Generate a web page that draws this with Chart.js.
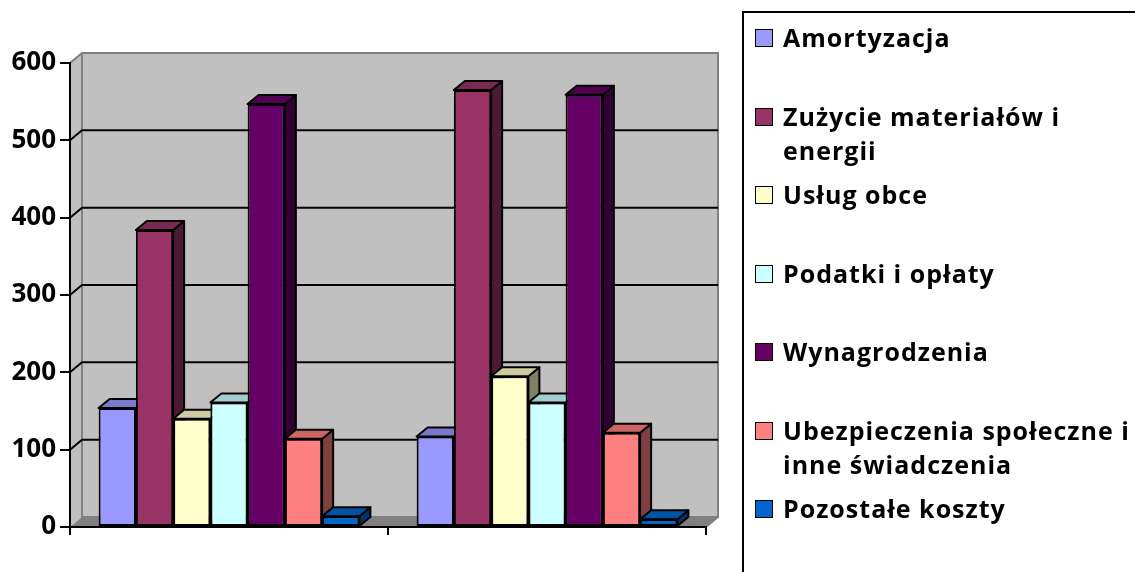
<!DOCTYPE html>
<html>
<head>
<meta charset="utf-8">
<script src="https://cdn.jsdelivr.net/npm/chart.js@4.4.1/dist/chart.umd.min.js"></script>
<style>
  body {
    margin: 0;
    background: #fff;
    font-family: 'Open Sans', sans-serif;
  }
  .wrap {
    position: relative;
    width: 1135px;
    height: 572px;
    overflow: hidden;
  }
  .chart-box {
    position: absolute;
    left: 0;
    top: 0;
    width: 1135px;
    height: 572px;
  }
  .legend-box {
    position: absolute;
    left: 742px;
    top: 11px;
    width: 460px;
    height: 640px;
    border: 2px solid #000;
  }
  .legend-item {
    position: absolute;
    left: 783px;
    width: 362px;
    font-weight: 700;
    font-size: 25px;
    letter-spacing: 1px;
    line-height: 34px;
    color: #000;
  }
  .legend-swatch {
    position: absolute;
    left: 755px;
    width: 16px;
    height: 16px;
    border: 1px solid #000;
  }
</style>
</head>
<body>
<div class="wrap">
  <div class="chart-box"><canvas id="costChart"></canvas></div>
  <div class="legend-box"></div>
  <div id="legend"></div>
</div>
<script>
  // data
  const categories = ['Okres 1', 'Okres 2'];
  const seriesNames = [
    'Amortyzacja',
    'Zużycie materiałów i energii',
    'Usług obce',
    'Podatki i opłaty',
    'Wynagrodzenia',
    'Ubezpieczenia społeczne i inne świadczenia',
    'Pozostałe koszty'
  ];
  const amortyzacja = [154, 117];
  const zuzycieMaterialow = [384, 565];
  const uslugiObce = [140, 195];
  const podatkiOplaty = [161, 161];
  const wynagrodzenia = [547, 559];
  const ubezpieczenia = [114, 122];
  const pozostaleKoszty = [14, 10];
  const yTickValues = [0, 100, 200, 300, 400, 500, 600];

  const seriesValues = [amortyzacja, zuzycieMaterialow, uslugiObce, podatkiOplaty, wynagrodzenia, ubezpieczenia, pozostaleKoszty];
  const seriesColors = ['#9999FF', '#993366', '#FFFFCC', '#CCFFFF', '#660066', '#FF8080', '#0066CC'];

  const WALL_DX = 12, WALL_DY = 10;
  const BAR_DX = 11, BAR_DY = 9;

  function shade(hex, f) {
    const n = parseInt(hex.slice(1), 16);
    const r = Math.round(((n >> 16) & 255) * f);
    const g = Math.round(((n >> 8) & 255) * f);
    const b = Math.round((n & 255) * f);
    return `rgb(${r}, ${g}, ${b})`;
  }

  function poly(ctx, pts) {
    ctx.beginPath();
    ctx.moveTo(pts[0][0], pts[0][1]);
    for (let i = 1; i < pts.length; i++) ctx.lineTo(pts[i][0], pts[i][1]);
    ctx.closePath();
  }

  // grey walls, floor and the gridlines on the back wall
  const walls = {
    id: 'walls',
    beforeDraw(chart) {
      const { ctx, chartArea: a, scales } = chart;
      const y = scales.y;
      ctx.save();
      ctx.fillStyle = '#C0C0C0';
      ctx.fillRect(a.left + WALL_DX, a.top - WALL_DY, a.right - a.left, a.bottom - a.top);
      poly(ctx, [[a.left, a.top], [a.left + WALL_DX, a.top - WALL_DY], [a.left + WALL_DX, a.bottom - WALL_DY], [a.left, a.bottom]]);
      ctx.fill();
      ctx.fillStyle = '#808080';
      poly(ctx, [[a.left, a.bottom], [a.left + WALL_DX, a.bottom - WALL_DY], [a.right + WALL_DX, a.bottom - WALL_DY], [a.right, a.bottom]]);
      ctx.fill();

      ctx.strokeStyle = '#808080';
      ctx.lineWidth = 2;
      ctx.strokeRect(a.left + WALL_DX, a.top - WALL_DY, a.right - a.left, a.bottom - a.top);
      ctx.beginPath();
      ctx.moveTo(a.left, a.top);
      ctx.lineTo(a.left + WALL_DX, a.top - WALL_DY);
      ctx.moveTo(a.right, a.bottom);
      ctx.lineTo(a.right + WALL_DX, a.bottom - WALL_DY);
      ctx.stroke();

      ctx.strokeStyle = '#000';
      ctx.lineWidth = 2;
      y.ticks.forEach(t => {
        if (t.value === y.min || t.value === y.max) return;
        const py = y.getPixelForValue(t.value);
        ctx.beginPath();
        ctx.moveTo(a.left, py);
        ctx.lineTo(a.left + WALL_DX, py - WALL_DY);
        ctx.lineTo(a.right + WALL_DX, py - WALL_DY);
        ctx.stroke();
      });
      ctx.restore();
    }
  };

  // draw bars left to right with their side and top faces
  const boxes3d = {
    id: 'boxes3d',
    beforeDatasetsDraw(chart) {
      const ctx = chart.ctx;
      chart.data.datasets.forEach((ds, i) => {
        const meta = chart.getDatasetMeta(i);
        const col = seriesColors[i];
        meta.data.forEach(bar => {
          const { x, y, base, width } = bar.getProps(['x', 'y', 'base', 'width'], true);
          const l = x - width / 2, r = x + width / 2;
          ctx.save();
          ctx.lineWidth = 2;
          ctx.strokeStyle = '#000';
          ctx.lineJoin = 'round';
          poly(ctx, [[r, y], [r + BAR_DX, y - BAR_DY], [r + BAR_DX, base - BAR_DY], [r, base]]);
          ctx.fillStyle = shade(col, 0.5);
          ctx.fill();
          ctx.stroke();
          poly(ctx, [[l, y], [l + BAR_DX, y - BAR_DY], [r + BAR_DX, y - BAR_DY], [r, y]]);
          ctx.fillStyle = shade(col, 0.8);
          ctx.fill();
          ctx.stroke();
          ctx.restore();
          bar.draw(ctx);
        });
      });
      return false;
    }
  };

  const ctx = document.getElementById('costChart').getContext('2d');
  new Chart(ctx, {
    type: 'bar',
    data: {
      labels: categories,
      datasets: seriesNames.map((name, i) => ({
        label: name,
        data: seriesValues[i],
        backgroundColor: seriesColors[i],
        borderColor: '#000',
        borderWidth: 2,
        borderSkipped: false,
        barPercentage: 1.0,
        categoryPercentage: 0.82
      }))
    },
    options: {
      responsive: true,
      maintainAspectRatio: false,
      animation: false,
      layout: {
        padding: { left: 0, top: 63, right: 429, bottom: 37 }
      },
      plugins: {
        legend: { display: false },
        tooltip: { enabled: false }
      },
      scales: {
        x: {
          ticks: { display: false },
          grid: { offset: true, drawOnChartArea: false, drawTicks: true, tickLength: 8, color: '#000', lineWidth: 2 },
          border: { display: true, color: '#000', width: 2 },
          afterFit: function(scale) { scale.height = 8; }
        },
        y: {
          min: 0,
          max: 600,
          afterBuildTicks: function(scale) {
            scale.ticks = yTickValues.map(v => ({ value: v }));
          },
          ticks: {
            color: '#000',
            padding: 4,
            font: { family: 'Open Sans', weight: 'bold', size: 26 }
          },
          grid: { drawOnChartArea: false, drawTicks: true, tickLength: 10, color: '#000', lineWidth: 2 },
          border: { display: true, color: '#000', width: 2 },
          afterFit: function(scale) { scale.width = 70; }
        }
      }
    },
    plugins: [walls, boxes3d]
  });

  // legend on the right, built from the series
  const legendEl = document.getElementById('legend');
  seriesNames.forEach((name, i) => {
    const top = 20 + 78.5 * i;
    const sw = document.createElement('div');
    sw.className = 'legend-swatch';
    sw.style.top = (top + 9) + 'px';
    sw.style.background = seriesColors[i];
    legendEl.appendChild(sw);
    const item = document.createElement('div');
    item.className = 'legend-item';
    item.style.top = top + 'px';
    item.textContent = name;
    legendEl.appendChild(item);
  });
</script>
</body>
</html>
